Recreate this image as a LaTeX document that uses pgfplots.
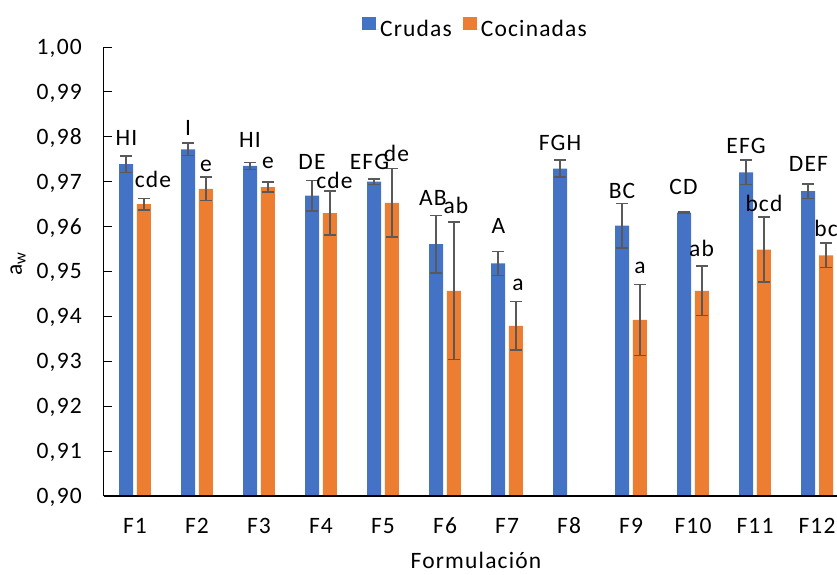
\documentclass[border=0pt]{standalone}
\usepackage{fontspec}
\setmainfont{Carlito}[LetterSpace=5]
\usepackage{pgfplots}
\pgfplotsset{compat=1.18}
\usepackage{pgfplotstable}

\definecolor{cblue}{HTML}{4472C4}
\definecolor{corange}{HTML}{ED7D31}
\definecolor{errgray}{HTML}{595959}
\newcommand\cf{\fontsize{23.5}{27}\selectfont}

% label positions (x in category units, y = baseline of the letters)
\pgfplotstableread{
x      y        lab
0.863  0.97817  HI
1.855  0.98018  I
2.855  0.97766  HI
3.855  0.97276  DE
4.782  0.97261  EFG
5.806  0.96459  AB
6.863  0.95851  A
7.855  0.97690  FGH
8.855  0.96630  BC
9.847  0.96704  CD
10.855 0.97617  EFG
11.863 0.97223  DEF
}\labcrudas
\pgfplotstableread{
x      y        lab
1.290  0.96860  cde
2.145  0.97223  e
3.145  0.97283  e
4.218  0.96853  cde
5.218  0.97445  de
6.177  0.96296  ab
7.177  0.94566  a
9.145  0.94960  a
10.137 0.95330  ab
11.145 0.96332  bcd
12.145 0.95775  bc
}\labcocinadas

\begin{document}
\begin{tikzpicture}
\begin{axis}[
  at={(0,0)}, anchor=south west,
  scale only axis,
  width=744pt, height=449pt,
  xmin=0.5, xmax=12.5,
  ymin=0.90, ymax=1.00,
  axis x line*=bottom, axis y line*=left,
  axis line style={-, black},
  x axis line style={line width=1.5pt},
  y axis line style={line width=1pt},
  axis on top,
  xtick={1,...,12},
  xticklabels={F1,F2,F3,F4,F5,F6,F7,F8,F9,F10,F11,F12},
  x tick style={draw=none},
  ytick={0.90,0.91,0.92,0.93,0.94,0.95,0.96,0.97,0.98,0.99,1.00},
  y tick style={black, line width=1pt},
  tick align=inside,
  major tick length=8pt,
  ytick pos=left,
  yticklabel style={/pgf/number format/use comma, /pgf/number format/fixed,
    /pgf/number format/fixed zerofill, /pgf/number format/precision=2,
    /pgf/number format/assume math mode=true,
    font=\cf, anchor=base east, inner sep=0pt, xshift=-22pt, yshift=-7.4pt},
  xticklabel style={font=\cf, anchor=base, inner sep=0pt, yshift=-37pt},
  xlabel={Formulación},
  every axis x label/.style={at={(axis description cs:0.5,0)}, anchor=base, yshift=-72pt, font=\cf},
  ylabel={a\textsubscript{w}},
  every axis y label/.style={at={(axis description cs:0,0.5)}, xshift=-86pt, yshift=7.5pt, rotate=90, anchor=center, font=\cf},
  legend columns=2,
  legend style={draw=none, fill=none, inner sep=0pt, font=\cf,
    at={(axis description cs:0.4987,1.0423)}, anchor=center,
    nodes={inner sep=1pt},
    /tikz/every even column/.append style={column sep=10pt}},
  legend image code/.code={\fill[#1] (0pt,-1pt) rectangle (14pt,12pt);
    \path (0pt,0pt) -- (17pt,0pt);},
  error bars/error bar style={line width=1.5pt, errgray},
  error bars/error mark options={line width=1.5pt, errgray, mark size=6pt, rotate=90},
]
% bars are placed directly at category -/+ 9px (one category = 62px)
\addplot[ybar, bar width=14pt, bar shift=0pt, fill=cblue, draw=none,
  error bars/.cd, y dir=both, y explicit]
coordinates {
  (0.855,0.9739) +- (0,0.0018)
  (1.855,0.9772) +- (0,0.0014)
  (2.855,0.9735) +- (0,0.0008)
  (3.855,0.9669) +- (0,0.0034)
  (4.855,0.9700) +- (0,0.0006)
  (5.855,0.9561) +- (0,0.0064)
  (6.855,0.9518) +- (0,0.0027)
  (7.855,0.9729) +- (0,0.0019)
  (8.855,0.9602) +- (0,0.0050)
  (9.855,0.9631) +- (0,0.0001)
  (10.855,0.9721) +- (0,0.0027)
  (11.855,0.9679) +- (0,0.0016)
};
\addlegendentry{Crudas}
\addplot[ybar, bar width=14pt, bar shift=0pt, fill=corange, draw=none,
  error bars/.cd, y dir=both, y explicit]
coordinates {
  (1.145,0.9650) +- (0,0.0013)
  (2.145,0.9684) +- (0,0.0026)
  (3.145,0.9688) +- (0,0.0011)
  (4.145,0.9630) +- (0,0.0049)
  (5.145,0.9653) +- (0,0.0076)
  (6.145,0.9457) +- (0,0.0153)
  (7.145,0.9379) +- (0,0.0054)
  (9.145,0.9392) +- (0,0.0079)
  (10.145,0.9457) +- (0,0.0055)
  (11.145,0.9549) +- (0,0.0072)
  (12.145,0.9536) +- (0,0.0027)
};
\addlegendentry{Cocinadas}
\addplot[only marks, mark=none, draw=none, forget plot,
  point meta=explicit symbolic, nodes near coords,
  every node near coord/.append style={anchor=base, inner sep=0pt, font=\cf, black}]
  table[x=x, y=y, meta=lab] {\labcrudas};
\addplot[only marks, mark=none, draw=none, forget plot,
  point meta=explicit symbolic, nodes near coords,
  every node near coord/.append style={anchor=base, inner sep=0pt, font=\cf, black}]
  table[x=x, y=y, meta=lab] {\labcocinadas};
\end{axis}
\pgfresetboundingbox
\path (-104pt,-78pt) rectangle (733pt,496pt);
\end{tikzpicture}
\end{document}
